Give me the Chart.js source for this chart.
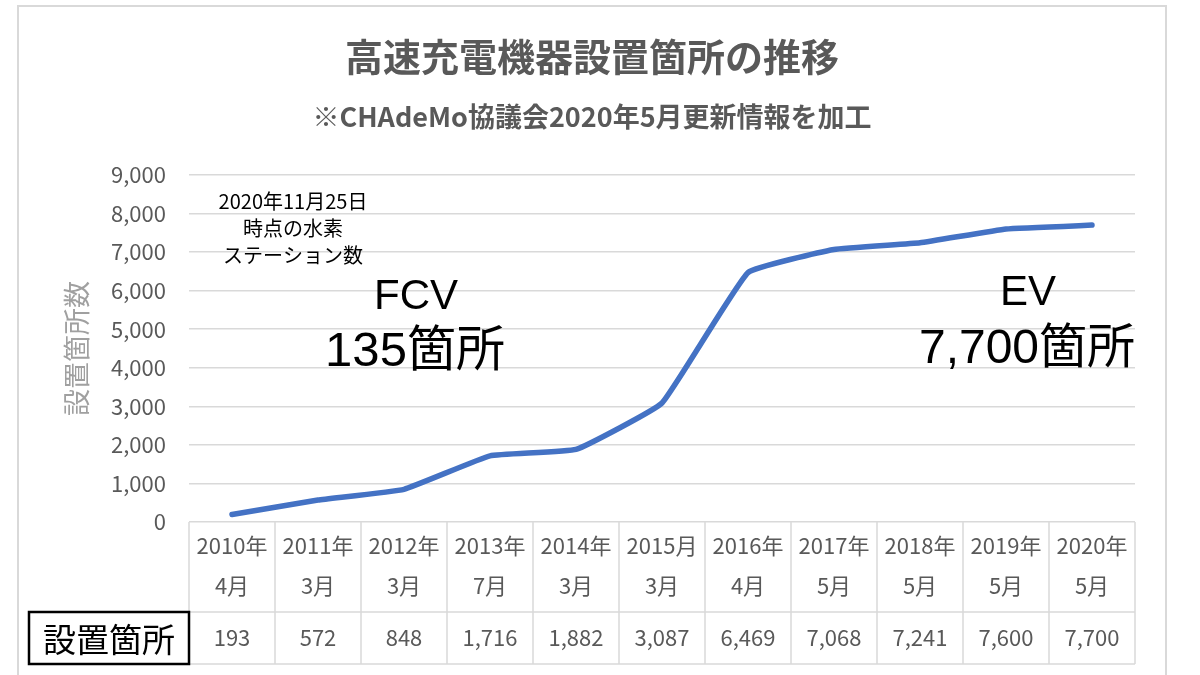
<!DOCTYPE html>
<html>
<head>
<meta charset="utf-8">
<script src="https://cdn.jsdelivr.net/npm/chart.js@4"></script>
<style>
  html, body { margin: 0; padding: 0; background: #ffffff; }
  canvas { display: block; }
</style>
</head>
<body>
<canvas id="chart" width="1200" height="675"></canvas>
<script>
// 設置箇所の推移データ
var years = ['2010年', '2011年', '2012年', '2013年', '2014年', '2015月', '2016年', '2017年', '2018年', '2019年', '2020年'];
var months = ['4月', '3月', '3月', '7月', '3月', '3月', '4月', '5月', '5月', '5月', '5月'];
var counts = [193, 572, 848, 1716, 1882, 3087, 6469, 7068, 7241, 7600, 7700];
var yTicks = [0, 1000, 2000, 3000, 4000, 5000, 6000, 7000, 8000, 9000];

var jp = "'Noto Sans CJK JP', 'Noto Sans', sans-serif";
var gray = '#595959';
var gridGray = '#d9d9d9';

var tableBottom = 664;
var rowSplit = 612;

var tablePlugin = {
    id: 'tablePlugin',
    beforeDraw: function (chart) {
        var ctx = chart.ctx;
        ctx.save();
        ctx.fillStyle = '#ffffff';
        ctx.fillRect(0, 0, chart.width, chart.height);
        ctx.strokeStyle = gridGray;
        ctx.lineWidth = 2;
        ctx.strokeRect(18, 6, 1148, 700);
        ctx.restore();
    },
    afterDraw: function (chart) {
        var ctx = chart.ctx;
        var x = chart.scales.x;
        var area = chart.chartArea;
        var colW = x.getPixelForValue(1) - x.getPixelForValue(0);
        ctx.save();

        // table grid
        ctx.strokeStyle = gridGray;
        ctx.lineWidth = 1.5;
        ctx.beginPath();
        ctx.moveTo(area.left, rowSplit);
        ctx.lineTo(area.right, rowSplit);
        ctx.moveTo(area.left, tableBottom);
        ctx.lineTo(area.right, tableBottom);
        for (var i = 0; i <= years.length; i++) {
            var bx = x.getPixelForValue(0) - colW / 2 + i * colW;
            ctx.moveTo(bx, area.bottom);
            ctx.lineTo(bx, tableBottom);
        }
        ctx.stroke();

        // values row
        ctx.fillStyle = gray;
        ctx.font = '22px ' + jp;
        ctx.textAlign = 'center';
        ctx.textBaseline = 'middle';
        counts.forEach(function (v, i) {
            ctx.fillText(v.toLocaleString('en-US'), x.getPixelForValue(i), (rowSplit + tableBottom) / 2);
        });

        // row header box
        ctx.strokeStyle = '#000000';
        ctx.lineWidth = 2.5;
        ctx.strokeRect(29, rowSplit, area.left - 29, tableBottom - rowSplit);
        ctx.fillStyle = '#000000';
        ctx.font = '33px ' + jp;
        ctx.fillText('設置箇所', (29 + area.left) / 2, (rowSplit + tableBottom) / 2 + 1);

        // annotations
        ctx.font = '20px ' + jp;
        ctx.fillText('2020年11月25日', 293, 201);
        ctx.fillText('時点の水素', 293, 228);
        ctx.fillText('ステーション数', 293, 255);

        ctx.font = "42px 'Liberation Sans', " + jp;
        ctx.fillText('FCV', 416, 297);
        ctx.fillText('EV', 1028, 293);
        ctx.font = "49px 'Liberation Sans', " + jp;
        ctx.fillText('135箇所', 415, 352);
        ctx.font = "48px 'Liberation Sans', " + jp;
        ctx.fillText('7,700箇所', 1027, 350);

        ctx.restore();
    }
};

var chartStations = new Chart(
    document.getElementById('chart'),
    {
        type: 'line',
        data: {
            labels: years.map(function (y, i) { return [y, months[i]]; }),
            datasets: [{
                label: '設置箇所',
                borderColor: '#4472C4',
                borderWidth: 5.5,
                fill: false,
                data: counts,
                tension: 0.1,
                pointRadius: 0,
                borderCapStyle: 'round',
                borderJoinStyle: 'round'
            }]
        },
        options: {
            responsive: false,
            animation: false,
            locale: 'en-US',
            layout: {
                padding: { top: 0, left: 49, right: 65, bottom: 11 }
            },
            plugins: {
                legend: { display: false },
                tooltip: { enabled: false },
                title: {
                    display: true,
                    text: '高速充電機器設置箇所の推移',
                    color: gray,
                    font: { family: jp, size: 38, weight: 'bold', lineHeight: 1.2 },
                    padding: { top: 34, bottom: 0 }
                },
                subtitle: {
                    display: true,
                    text: '※CHAdeMo協議会2020年5月更新情報を加工',
                    color: gray,
                    font: { family: jp, size: 27, weight: 'bold', lineHeight: 1.2 },
                    padding: { top: 21, bottom: 42 }
                }
            },
            scales: {
                x: {
                    offset: true,
                    grid: { display: false },
                    border: { display: false },
                    ticks: {
                        color: gray,
                        padding: -4,
                        autoSkip: false,
                        maxRotation: 0,
                        font: { family: jp, size: 22, lineHeight: 1.82 }
                    },
                    afterFit: function (scale) { scale.height = tableBottom - 522; }
                },
                y: {
                    min: 0,
                    max: yTicks[yTicks.length - 1],
                    afterBuildTicks: function (scale) {
                        scale.ticks = yTicks.map(function (v) { return { value: v }; });
                    },
                    grid: { color: gridGray, lineWidth: 1.5, drawTicks: false },
                    border: { display: false },
                    ticks: {
                        color: gray,
                        padding: 23,
                        font: { family: jp, size: 22 },
                        callback: function (v) { return v.toLocaleString('en-US'); }
                    },
                    title: {
                        display: true,
                        text: '設置箇所数',
                        color: '#a0a0a0',
                        font: { family: jp, size: 27, lineHeight: 1.2 },
                        padding: { top: 12, bottom: 0 }
                    },
                    afterFit: function (scale) { scale.width = 189 - 49; }
                }
            }
        },
        plugins: [tablePlugin]
    }
);
</script>
</body>
</html>
